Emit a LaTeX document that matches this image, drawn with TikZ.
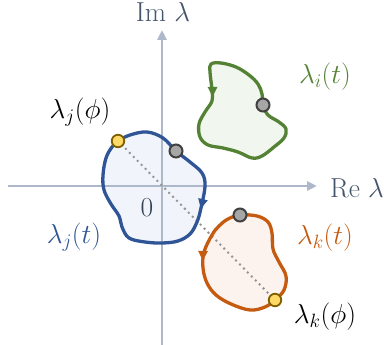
\RequirePackage{fix-cm}
\documentclass[tikz,border=0pt]{standalone}
\usetikzlibrary{arrows.meta,decorations.markings}
\definecolor{axisc}{HTML}{ADB9CA}
\definecolor{axtext}{HTML}{44546A}
\definecolor{bluec}{HTML}{2F5597}
\definecolor{bluef}{HTML}{F1F5FB}
\definecolor{greenc}{HTML}{548235}
\definecolor{greenf}{HTML}{F1F6EE}
\definecolor{orangec}{HTML}{C55A11}
\definecolor{orangef}{HTML}{FCF3EE}
\definecolor{dotgray}{HTML}{A6A6A6}
\definecolor{dotedge}{HTML}{404040}
\definecolor{yellowf}{HTML}{FFD966}
\definecolor{yellowe}{HTML}{7F6000}
\definecolor{dashc}{HTML}{959595}
\begin{document}
\begin{tikzpicture}[x=1pt,y=-1pt,
  loopline/.style 2 args={draw=#1, line width=3.3pt, line join=round,
    postaction={decorate},
    decoration={markings, mark=at position #2 with {\arrow[#1]{Triangle[length=10pt,width=9pt]}}}},
  axisline/.style={draw=axisc, line width=2.8pt, -{Triangle[length=10pt,width=9pt]}},
  graydot/.style={circle, fill=dotgray, draw=dotedge, line width=2pt, minimum size=13pt, inner sep=0pt},
  yellowdot/.style={circle, fill=yellowf, draw=yellowe, line width=1.8pt, minimum size=12.5pt, inner sep=0pt},
  lbl/.style={font=\fontsize{27.5}{33}\selectfont, inner sep=0pt},
  dottedline/.style={draw=dashc, line width=2.8pt, line cap=round, dash pattern=on 0pt off 5.6pt}]
\useasboundingbox (0,0) rectangle (384,345);
% fills
\fill[bluef] plot[smooth cycle, tension=0.6] coordinates {(205,186) (201,208) (197,222) (190,234) (178,241) (162,243) (145,242) (129,238) (122,227) (119,216) (111,204) (104,190) (103,175) (106,158) (112,147) (118,141) (130,135) (147,132) (163,138) (176,151) (190,162) (202,173)};
\fill[greenf] plot[smooth cycle, tension=0.6] coordinates {(210,72) (212,90) (212,101) (205,112) (199,124) (200,137) (208,145) (223,148) (238,152) (252,158) (262,156) (274,147) (284,138) (286,129) (279,122) (268,115) (263,105) (262,94) (258,84) (249,75) (236,67) (221,63) (211,64)};
\fill[orangef] plot[smooth cycle, tension=0.6] coordinates {(212,235) (204,252) (203,268) (207,283) (216,295) (231,304) (250,310) (265,307) (275,300) (284,290) (286,276) (279,262) (273,249) (272,233) (268,222) (257,216) (240,215) (228,219) (219,226)};
% axes
\coordinate (xl) at (8,186);
\coordinate (xr) at (317,186);
\coordinate (yb) at (162,345);
\coordinate (yt) at (162,30);
\draw[axisline] (xl) -- (xr);
\draw[axisline] (yb) -- (yt);
% dots positions
\coordinate (yj) at (118,141);
\coordinate (yk) at (275,300);
\draw[dottedline] (yj) -- (yk);
% curves
\draw[loopline={bluec}{1pt}] plot[smooth cycle, tension=0.6] coordinates {(205,186) (201,208) (197,222) (190,234) (178,241) (162,243) (145,242) (129,238) (122,227) (119,216) (111,204) (104,190) (103,175) (106,158) (112,147) (118,141) (130,135) (147,132) (163,138) (176,151) (190,162) (202,173)};
\draw[loopline={greenc}{7pt}] plot[smooth cycle, tension=0.6] coordinates {(210,72) (212,90) (212,101) (205,112) (199,124) (200,137) (208,145) (223,148) (238,152) (252,158) (262,156) (274,147) (284,138) (286,129) (279,122) (268,115) (263,105) (262,94) (258,84) (249,75) (236,67) (221,63) (211,64)};
\draw[loopline={orangec}{9pt}] plot[smooth cycle, tension=0.6] coordinates {(212,235) (204,252) (203,268) (207,283) (216,295) (231,304) (250,310) (265,307) (275,300) (284,290) (286,276) (279,262) (273,249) (272,233) (268,222) (257,216) (240,215) (228,219) (219,226)};
% dots
\node[graydot] (gj) at (176,151) {};
\node[graydot] (gi) at (263,105) {};
\node[graydot] (gk) at (240,215) {};
\node[yellowdot] (dj) at (yj) {};
\node[yellowdot] (dk) at (yk) {};
% labels
\node[lbl, text=axtext] (im) at (163,12) {Im $\lambda$};
\node[lbl, text=axtext] (re) at (357,188) {Re $\lambda$};
\node[lbl] (ljphi) at (80,112) {$\lambda_j(\phi)$};
\node[lbl, text=greenc] (lit) at (325,77) {$\lambda_i(t)$};
\node[lbl, text=bluec] (ljt) at (74,237) {$\lambda_j(t)$};
\node[lbl, text=orangec] (lkt) at (325,238) {$\lambda_k(t)$};
\node[lbl] (lkphi) at (325,317) {$\lambda_k(\phi)$};
\node[lbl, text=axtext!80!black] (zero) at (147,208) {$0$};
\end{tikzpicture}
\end{document}
